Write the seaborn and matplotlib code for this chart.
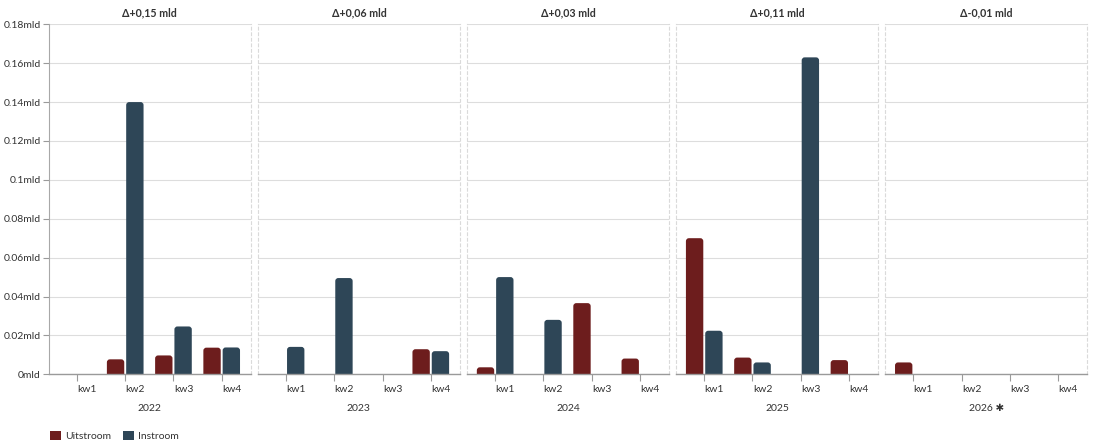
import numpy as np
import pandas as pd
import matplotlib
matplotlib.use("Agg")
import matplotlib.pyplot as plt
import seaborn as sns
from matplotlib.patches import FancyBboxPatch, Patch
from matplotlib.transforms import ScaledTranslation

# ---- data ----
years = ["2022", "2023", "2024", "2025", "2026 ✱"]
titles = ["Δ+0,15 mld", "Δ+0,06 mld", "Δ+0,03 mld", "Δ+0,11 mld", "Δ-0,01 mld"]
quarters = ["kw1", "kw2", "kw3", "kw4"]
uitstroom = [
    [0, 0.0077, 0.0097, 0.0137],
    [0, 0, 0, 0.0129],
    [0.0036, 0, 0.0366, 0.0081],
    [0.0700, 0.0086, 0, 0.0073],
    [0.0061, 0, 0, 0],
]
instroom = [
    [0, 0.1400, 0.0246, 0.0138],
    [0.0141, 0.0495, 0, 0.0119],
    [0.0500, 0.0280, 0, 0],
    [0.0224, 0.0061, 0.1630, 0],
    [0, 0, 0, 0],
]
series = ["Uitstroom", "Instroom"]
colors = {"Uitstroom": "#6d1d1d", "Instroom": "#2e4657"}
yticks = [0, 0.02, 0.04, 0.06, 0.08, 0.10, 0.12, 0.14, 0.16, 0.18]

sns.set_theme(style="white")
plt.rcParams["font.family"] = ["Lato", "DejaVu Sans"]

W, H = 1093, 446
fig, axes = plt.subplots(1, 5, figsize=(W / 100, H / 100), dpi=100, sharey=True)
fig.subplots_adjust(left=49 / W, right=1087 / W, top=1 - 24.3 / H,
                    bottom=1 - 374.3 / H, wspace=0.037)

XLIM = (-0.58, 3.6)
YLIM = (0, 0.18)


def round_bars(ax, rpx=3.0):
    pos = ax.get_position()
    wpx = pos.width * W
    hpx = pos.height * H
    xpp = (XLIM[1] - XLIM[0]) / wpx
    ypp = (YLIM[1] - YLIM[0]) / hpx
    rx, ry = rpx * xpp, rpx * ypp
    for p in list(ax.patches):
        h = p.get_height()
        fc = p.get_facecolor()
        x, w = p.get_x(), p.get_width()
        p.remove()
        if not np.isfinite(h) or h <= 0:
            continue
        nb = FancyBboxPatch((x, -ry), w, h + ry,
                            boxstyle=f"round,pad=0,rounding_size={rx}",
                            mutation_aspect=ry / rx, fc=fc, ec="none",
                            zorder=2)
        ax.add_patch(nb)


for i, ax in enumerate(axes):
    rows = []
    for q, u, v in zip(quarters, uitstroom[i], instroom[i]):
        rows.append({"kw": q, "type": "Uitstroom", "value": u})
        rows.append({"kw": q, "type": "Instroom", "value": v})
    df = pd.DataFrame(rows)
    sns.barplot(data=df, x="kw", y="value", hue="type", order=quarters,
                hue_order=series, palette=colors, width=0.8, gap=0.1,
                saturation=1, legend=False, ax=ax, errorbar=None)
    ax.set_xlim(*XLIM)
    ax.set_ylim(*YLIM)
    ax.set_yticks(yticks)
    round_bars(ax)

    ax.set_axisbelow(True)
    ax.yaxis.grid(True, color="#dddddd", lw=0.8)
    ax.xaxis.grid(False)
    ax.spines["top"].set_visible(False)
    for s in ["left", "right"]:
        ax.spines[s].set_visible(True)
        ax.spines[s].set_color("#dadada")
        ax.spines[s].set_linestyle((0, (2.5, 2.5)))
        ax.spines[s].set_linewidth(0.8)
    ax.spines["bottom"].set_visible(True)
    ax.spines["bottom"].set_color("#9a9a9a")
    ax.spines["bottom"].set_linewidth(1.0)

    ax.tick_params(axis="x", bottom=True, length=5, width=0.8, color="#9a9a9a",
                   labelsize=7.5, labelcolor="#333333", pad=3)
    offset = ScaledTranslation(10 / 100, 0, fig.dpi_scale_trans)
    for lab in ax.get_xticklabels():
        lab.set_transform(lab.get_transform() + offset)

    ax.set_xlabel(years[i], fontsize=7.5, color="#333333", labelpad=7)
    ax.set_ylabel("")
    ax.set_title(titles[i], fontsize=7.7, fontweight="bold", color="#333333", pad=6)

    if i == 0:
        ax.spines["left"].set_linestyle("-")
        ax.spines["left"].set_color("#a8a8a8")
        ax.tick_params(axis="y", left=True, length=4, width=0.8, color="#9a9a9a",
                       labelsize=7.5, labelcolor="#333333", pad=2)
        ax.set_yticklabels([f"{v:g}mld" for v in yticks])
    else:
        ax.tick_params(axis="y", left=False, labelleft=False)

handles = [Patch(facecolor=colors[s], edgecolor="none") for s in series]
fig.legend(handles, series, loc="center left",
           bbox_to_anchor=(41 / W, 1 - 436 / H), ncol=2, frameon=False,
           handlelength=1.0, handleheight=1.0, handletextpad=0.4,
           columnspacing=1.2, fontsize=7.5, labelcolor="#333333")

fig.savefig("out.png", dpi=100)
